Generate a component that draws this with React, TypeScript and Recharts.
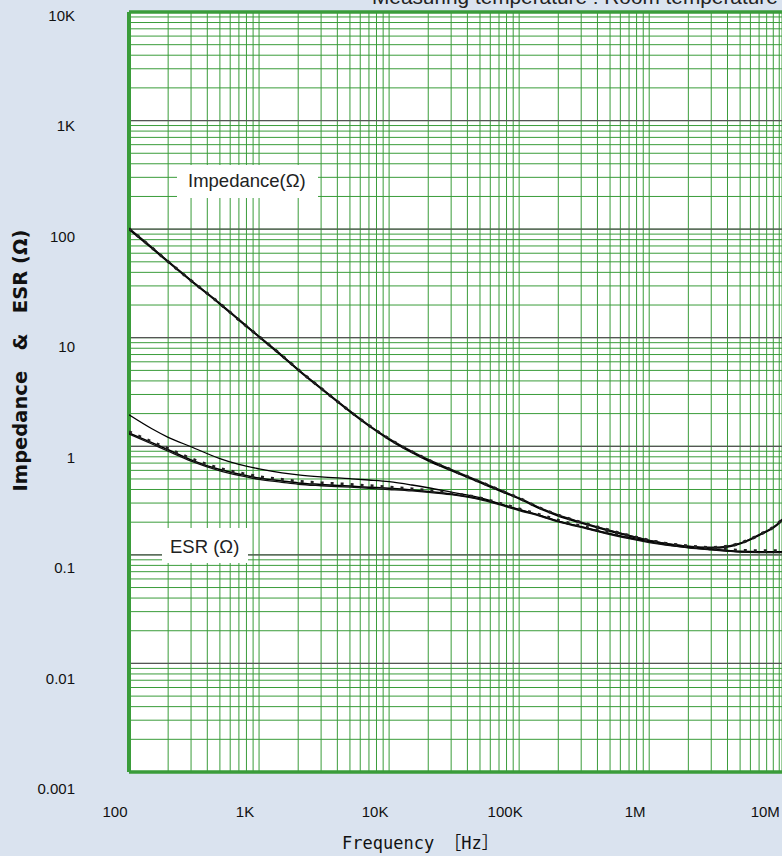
import { CartesianGrid, Line, LineChart, ReferenceLine, XAxis, YAxis } from 'recharts';

// frequency points (Hz)
const FREQ = [
  100, 150, 200, 300, 500, 700, 1000, 1500, 2000, 3000, 5000, 7000, 10000, 15000, 20000, 30000,
  50000, 70000, 100000, 150000, 200000, 300000, 500000, 700000, 1000000, 1500000, 2000000,
  3000000, 4000000, 5000000, 7000000, 10000000, 10500000,
];

// impedance (ohm)
const Z1 = [
  100, 67, 50, 33.5, 20.5, 14.6, 10.2, 6.8, 5.05, 3.4, 2.09, 1.545, 1.16, 0.88, 0.74, 0.6,
  0.465, 0.393, 0.329, 0.262, 0.229, 0.197, 0.166, 0.15, 0.135, 0.124, 0.119, 0.116, 0.119,
  0.127, 0.152, 0.197, 0.21,
];
const Z2 = [
  102, 68, 50.5, 33.8, 20.7, 14.7, 10.3, 6.9, 5.1, 3.45, 2.12, 1.565, 1.18, 0.9, 0.757, 0.614,
  0.475, 0.401, 0.335, 0.267, 0.233, 0.2, 0.168, 0.151, 0.136, 0.125, 0.12, 0.117, 0.12, 0.128,
  0.154, 0.2, 0.213,
];
const Z3 = [
  101, 67.5, 50.2, 33.6, 20.6, 14.6, 10.25, 6.85, 5.08, 3.42, 2.1, 1.555, 1.17, 0.89, 0.75,
  0.608, 0.47, 0.397, 0.332, 0.265, 0.232, 0.199, 0.168, 0.151, 0.136, 0.125, 0.12, 0.117, 0.12,
  0.128, 0.153, 0.199, 0.212,
];

// ESR (ohm)
const E0 = [
  1.95, 1.45, 1.21, 0.99, 0.77, 0.68, 0.62, 0.57, 0.545, 0.522, 0.503, 0.489, 0.472, 0.44, 0.415,
  0.378, 0.336, 0.298, 0.262, 0.228, 0.205, 0.182, 0.157, 0.144, 0.133, 0.123, 0.118, 0.113, 0.11,
  0.108, 0.107, 0.107, 0.107,
];
const E1 = [
  1.33, 1.08, 0.93, 0.75, 0.61, 0.555, 0.51, 0.48, 0.46, 0.445, 0.43, 0.42, 0.41, 0.396, 0.384,
  0.364, 0.328, 0.295, 0.26, 0.227, 0.204, 0.181, 0.156, 0.143, 0.132, 0.122, 0.117, 0.112, 0.109,
  0.107, 0.106, 0.106, 0.106,
];
const E2 = [
  1.36, 1.1, 0.95, 0.77, 0.625, 0.57, 0.525, 0.495, 0.475, 0.46, 0.445, 0.433, 0.42, 0.405,
  0.392, 0.37, 0.334, 0.3, 0.265, 0.231, 0.208, 0.184, 0.159, 0.146, 0.135, 0.125, 0.12, 0.115,
  0.112, 0.11, 0.109, 0.109, 0.109,
];
const E3 = [
  1.3, 1.05, 0.9, 0.73, 0.595, 0.54, 0.495, 0.466, 0.447, 0.433, 0.42, 0.41, 0.4, 0.388, 0.377,
  0.358, 0.323, 0.29, 0.256, 0.224, 0.201, 0.179, 0.154, 0.141, 0.13, 0.121, 0.116, 0.111, 0.108,
  0.106, 0.105, 0.105, 0.105,
];

const X_DECADES = [100, 1000, 10000, 100000, 1000000, 10000000];
const X_LABELS = ['100', '1K', '10K', '100K', '1M', '10M'];
const Y_DECADES = [0.001, 0.01, 0.1, 1, 10, 100, 1000, 10000];
const Y_LABELS = ['0.001', '0.01', '0.1', '1', '10', '100', '1K', '10K'];

const TITLE = 'Measuring temperature : Room temperature';
const Y_TITLE = 'Impedance   &   ESR (Ω)';
const X_TITLE = 'Frequency ［Hz］';

const GREEN = '#3a9c3a';
const BG = '#dae3ef';

// 1..9 minor grid inside each decade
function minorTicks(decades: number[]) {
  const out: number[] = [];
  for (let i = 0; i < decades.length - 1; i++) {
    for (let m = 1; m < 10; m++) out.push(Number((decades[i] * m).toPrecision(3)));
  }
  out.push(decades[decades.length - 1]);
  return out;
}

const X_GRID = minorTicks(X_DECADES);
const Y_GRID = minorTicks(Y_DECADES);

const data = FREQ.map((f, i) => ({
  f,
  z1: Z1[i],
  z2: Z2[i],
  z3: Z3[i],
  e0: E0[i],
  e1: E1[i],
  e2: E2[i],
  e3: E3[i],
}));

const tickFont = { fontFamily: '"Liberation Sans", Arial, sans-serif', fontSize: 15, fill: '#111' };

function XTick(props: any) {
  const { x, y, payload } = props;
  const idx = X_DECADES.findIndex((d) => Math.abs(d - payload.value) < d * 1e-6);
  if (idx < 0) return <g />;
  return (
    <text x={x - 14} y={y + 37} textAnchor="middle" style={tickFont}>
      {X_LABELS[idx]}
    </text>
  );
}

function YTick(props: any) {
  const { y, payload } = props;
  const idx = Y_DECADES.findIndex((d) => Math.abs(d - payload.value) < d * 1e-6);
  if (idx < 0) return <g />;
  return (
    <text x={75} y={y + 9 + (y - 12) * 0.0171} textAnchor="end" style={tickFont}>
      {Y_LABELS[idx]}
    </text>
  );
}

const dotted = { strokeDasharray: '3 7', strokeWidth: 3 };

export default function App() {
  return (
    <div style={{ position: 'absolute', left: 0, top: 0, width: 782, height: 856, background: BG, overflow: 'hidden' }}>
      <LineChart width={782} height={856} data={data} margin={{ top: 12, right: 0, bottom: 0, left: 0 }}>
        <CartesianGrid stroke={GREEN} strokeWidth={1} fill="#fff" fillOpacity={1} />
        <XAxis
          dataKey="f"
          type="number"
          scale="log"
          domain={[100, 10500000]}
          ticks={X_GRID}
          interval={0}
          allowDataOverflow
          axisLine={false}
          tickLine={false}
          height={84}
          tick={<XTick />}
        />
        <YAxis
          type="number"
          scale="log"
          domain={[0.001, 10000]}
          ticks={Y_GRID}
          interval={0}
          allowDataOverflow
          axisLine={false}
          tickLine={false}
          width={129}
          tick={<YTick />}
        />
        {Y_DECADES.slice(1, -1).map((v) => (
          <ReferenceLine key={v} y={v} stroke="#555" strokeWidth={1.2} />
        ))}
        <ReferenceLine x={100} stroke={GREEN} strokeWidth={4} />
        <ReferenceLine y={10000} stroke={GREEN} strokeWidth={3.5} />
        <ReferenceLine y={0.001} stroke={GREEN} strokeWidth={3.5} />

        <Line dataKey="z1" type="monotone" stroke="#000" strokeWidth={2} dot={false} isAnimationActive={false} />
        <Line dataKey="z2" type="monotone" stroke="#111" strokeWidth={1.3} dot={false} isAnimationActive={false} />
        <Line dataKey="z3" type="monotone" stroke="#222" {...dotted} dot={false} isAnimationActive={false} />
        <Line dataKey="e0" type="monotone" stroke="#000" strokeWidth={1.3} dot={false} isAnimationActive={false} />
        <Line dataKey="e1" type="monotone" stroke="#000" strokeWidth={1.5} dot={false} isAnimationActive={false} />
        <Line dataKey="e2" type="monotone" stroke="#222" {...dotted} dot={false} isAnimationActive={false} />
        <Line dataKey="e3" type="monotone" stroke="#111" strokeWidth={1.3} dot={false} isAnimationActive={false} />
      </LineChart>

      <svg
        width={782}
        height={856}
        style={{ position: 'absolute', left: 0, top: 0, pointerEvents: 'none' }}
      >
        <text x={372} y={3.5} style={{ fontFamily: '"Liberation Sans", Arial, sans-serif', fontSize: 20.8, fill: '#222' }}>
          {TITLE}
        </text>
        <text
          x={27}
          y={360.5}
          textAnchor="middle"
          transform="rotate(-90, 27, 360.5)"
          style={{ fontFamily: '"DejaVu Sans", sans-serif', fontWeight: 'bold', fontSize: 19.5, fill: '#111', whiteSpace: 'pre' }}
        >
          {Y_TITLE}
        </text>
        <text x={342} y={849} style={{ fontFamily: '"DejaVu Sans Mono", "Noto Sans CJK JP", monospace', fontSize: 17, fill: '#111', whiteSpace: 'pre' }}>
          {X_TITLE}
        </text>

        <rect x={177} y={165} width={141} height={33} fill="#fff" />
        <text x={188} y={187} style={{ fontFamily: '"Liberation Sans", Arial, sans-serif', fontSize: 18.5, fill: '#222' }}>
          Impedance(Ω)
        </text>
        <rect x={162} y={528} width={86} height={35} fill="#fff" />
        <text x={170} y={553} style={{ fontFamily: '"Liberation Sans", Arial, sans-serif', fontSize: 18.5, fill: '#222' }}>
          ESR (Ω)
        </text>
      </svg>
    </div>
  );
}
